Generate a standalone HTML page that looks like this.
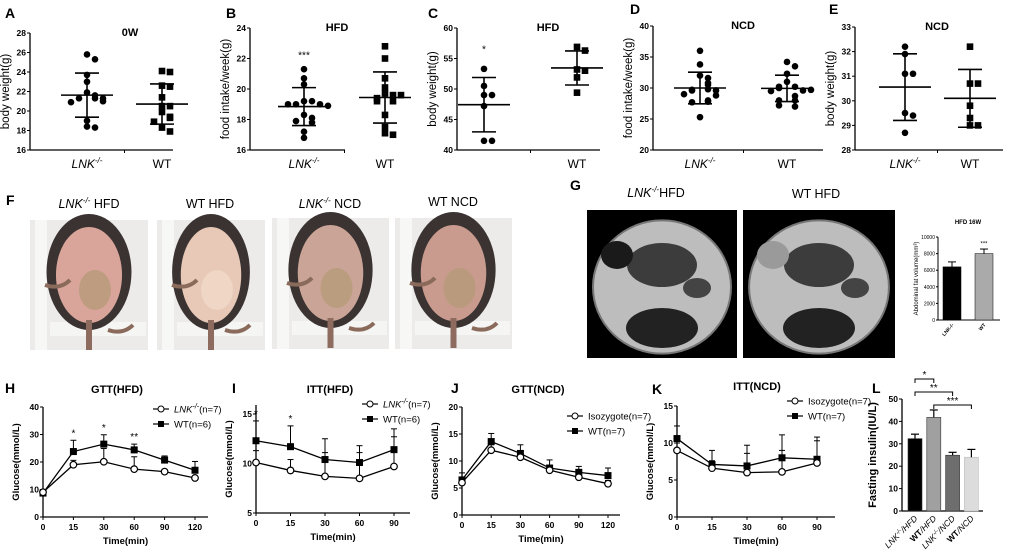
<!DOCTYPE html>
<html><head><meta charset="utf-8"><style>
html,body{margin:0;padding:0;background:#fff;}
svg{display:block;font-family:"Liberation Sans",sans-serif;}
</style></head><body>
<svg id="fig" width="1020" height="556" viewBox="0 0 1020 556" xmlns="http://www.w3.org/2000/svg">
<g id="photos">
  <text x="6" y="205" font-size="14" font-weight="bold">F</text>
  <text x="89" y="208" font-size="12.5" text-anchor="middle"><tspan font-style="italic">LNK</tspan><tspan font-size="8" dy="-5" font-style="italic">-/-</tspan><tspan dy="5"> HFD</tspan></text>
  <text x="210" y="208" font-size="12.5" text-anchor="middle">WT HFD</text>
  <text x="330" y="208" font-size="12.5" text-anchor="middle"><tspan font-style="italic">LNK</tspan><tspan font-size="8" dy="-5" font-style="italic">-/-</tspan><tspan dy="5"> NCD</tspan></text>
  <text x="453" y="206" font-size="12.5" text-anchor="middle">WT NCD</text>
</g>
<g id="mri">
  <text x="570" y="190" font-size="14" font-weight="bold">G</text>
  <text x="656" y="197" font-size="12.5" text-anchor="middle"><tspan font-style="italic">LNK</tspan><tspan font-size="8" dy="-5" font-style="italic">-/-</tspan><tspan dy="5">HFD</tspan></text>
  <text x="816" y="198" font-size="12.5" text-anchor="middle">WT HFD</text>
</g>
</svg>
<script>
var NS="http://www.w3.org/2000/svg";
var svg=document.getElementById('fig');
function mk(tag,attrs,parent){var e=document.createElementNS(NS,tag);for(var k in attrs)e.setAttribute(k,attrs[k]);(parent||svg).appendChild(e);return e;}
function txt(x,y,s,size,extra,parent){var a={x:x,y:y,'font-size':size};for(var k in extra)a[k]=extra[k];var t=mk('text',a,parent);t.textContent=s;return t;}

/* ---------- scatter data ---------- */
var aLnk=[25.8,25.3,23.7,23.0,21.9,21.6,21.3,21.3,21.3,21.0,20.9,19.0,18.4,18.3];
var aWt=[24.1,24.0,22.6,22.5,21.4,20.5,20.5,19.9,19.4,19.3,18.9,18.3,17.9];
var bLnk=[21.3,20.7,20.3,19.2,19.2,19.0,19.0,19.0,18.9,18.3,18.1,17.8,17.9,17.2,16.8];
var bWt=[22.8,22.0,20.7,20.1,19.7,19.6,19.4,19.6,19.2,19.2,18.3,17.5,17.1,17.0];
var cLnk=[53.3,50.5,49.0,49.0,47.2,41.5,41.5];
var cWt=[56.9,56.3,53.2,53.0,51.9,49.4];
var dLnk=[36.0,33.8,32.0,31.6,30.8,30.5,29.8,29.7,29.6,29.6,29.0,28.8,28.0,27.8,27.7,25.3];
var dWt=[34.2,33.5,32.3,31.0,30.2,30.2,30.0,29.6,29.5,29.7,28.7,28.0,28.0,27.2,27.0];
var eLnk=[32.2,31.9,31.1,31.1,29.5,29.4,28.7];
var eWt=[32.2,30.7,30.7,29.8,29.3,29.0,29.0];
var aTicks=[16,18,20,22,24,26,28];
var bTicks=[16,18,20,22,24];
var cTicks=[40,45,50,55,60];
var dTicks=[20,25,30,35,40];
var eTicks=[28,29,30,31,32,33];

function stats(a){var m=0;a.forEach(function(v){m+=v});m/=a.length;var s=0;a.forEach(function(v){s+=(v-m)*(v-m)});s=Math.sqrt(s/(a.length-1));return [m,s];}

function scatter(p){
  var g=mk('g',{});
  
  
  function Y(v){return p.yb-(v-p.min)/(p.max-p.min)*(p.yb-p.yt);}
  var l=txt(p.lx,p.ly,p.letter,14,{'font-weight':'bold'},g);
  
  
  var ax=mk('line',{x1:p.ax,y1:p.yt,x2:p.ax,y2:p.yb,stroke:'#000','stroke-width':1.3},g);
  
  
  var xa=mk('line',{x1:p.ax,y1:p.yb,x2:p.xe,y2:p.yb,stroke:'#000','stroke-width':1.3},g);
  
  
  mk('line',{x1:(p.c1+p.c2)/2,y1:p.yb,x2:(p.c1+p.c2)/2,y2:p.yb+3,stroke:'#000'},g);
  p.ticks.forEach(function(t){
    mk('line',{x1:p.ax-3,y1:Y(t),x2:p.ax,y2:Y(t),stroke:'#000'},g);
    var tl=txt(p.ax-4,Y(t)+3,String(t),8.5,{'text-anchor':'end','font-weight':'bold'},g);
    
    
  });
  var yt=txt(0,0,p.ylab,11.5,{'text-anchor':'middle',transform:'translate('+(p.ax-21)+','+((p.yt+p.yb)/2)+') rotate(-90)'},g);
  
  
  var tt=txt(p.tx,p.yt+3,p.title,11,{'text-anchor':'middle','font-weight':'bold'},g);
  
  
  if(p.showL){
    var x1=mk('text',{x:p.c1,y:p.yb+18,'font-size':12,'text-anchor':'middle','font-style':'italic'},g);
    x1.innerHTML='LNK<tspan font-size="8" dy="-5">-/-</tspan>';
    
    
  }
  var x2=txt(p.c2,p.yb+18,'WT',12,{'text-anchor':'middle'},g);
  
  
  [[p.d1,p.c1,'circle'],[p.d2,p.c2,p.sq?'square':'circle']].forEach(function(gr){
    var data=gr[0],cx=gr[1],placed=[];
    data.forEach(function(v){
      var y=Y(v),n=0;placed.forEach(function(py){if(Math.abs(py-y)<5)n++;});placed.push(y);
      var off=(n%2?1:-1)*Math.ceil(n/2)*8; if(n===0)off=0;
      var m;
      if(gr[2]==='circle'){m=mk('circle',{cx:cx+off,cy:y,r:3.3,fill:'#000'},g);}
      else{m=mk('rect',{x:cx+off-3.3,y:y-3.3,width:6.6,height:6.6,fill:'#000'},g);}
      
      
    });
    var st=stats(data);
    var ml=mk('line',{x1:cx-26,y1:Y(st[0]),x2:cx+26,y2:Y(st[0]),stroke:'#000','stroke-width':1.6},g);
    
    
    mk('line',{x1:cx,y1:Y(st[0]+st[1]),x2:cx,y2:Y(st[0]-st[1]),stroke:'#000','stroke-width':1.6},g);
    mk('line',{x1:cx-12,y1:Y(st[0]+st[1]),x2:cx+12,y2:Y(st[0]+st[1]),stroke:'#000','stroke-width':1.6},g);
    mk('line',{x1:cx-12,y1:Y(st[0]-st[1]),x2:cx+12,y2:Y(st[0]-st[1]),stroke:'#000','stroke-width':1.6},g);
  });
  if(p.star){var s=txt(p.c1,Y(p.starV),p.star,10,{'text-anchor':'middle'},g);
    
    }
}
scatter({name:'panel-a-chart',letter:'A',lx:5,ly:18,ax:30,xe:173,yt:33,yb:150,min:16,max:28,ticks:aTicks,d1:aLnk,d2:aWt,c1:87,c2:162,sq:true,ylab:'body weight(g)',title:'0W',tx:130,showL:true});
scatter({name:'panel-b-chart',letter:'B',lx:226,ly:18,ax:250,xe:345,yt:28,yb:150,min:16,max:24,ticks:bTicks,d1:bLnk,d2:bWt,c1:304,c2:385,sq:true,ylab:'food intake/week(g)',title:'HFD',tx:337,showL:true,star:'***',starV:22});
scatter({name:'panel-c-chart',letter:'C',lx:428,ly:18,ax:457,xe:600,yt:28,yb:150,min:40,max:60,ticks:cTicks,d1:cLnk,d2:cWt,c1:484,c2:577,sq:true,ylab:'body weight(g)',title:'HFD',tx:548,showL:false,star:'*',starV:56});
scatter({name:'panel-d-chart',letter:'D',lx:630,ly:14,ax:653,xe:823,yt:26,yb:150,min:20,max:40,ticks:dTicks,d1:dLnk,d2:dWt,c1:700,c2:787,sq:false,ylab:'food intake/week(g)',title:'NCD',tx:743,showL:true});
scatter({name:'panel-e-chart',letter:'E',lx:829,ly:14,ax:855,xe:1003,yt:27,yb:150,min:28,max:33,ticks:eTicks,d1:eLnk,d2:eWt,c1:905,c2:970,sq:true,ylab:'body weight(g)',title:'NCD',tx:937,showL:true});
</script>
<script>
/* ---------- photos & MRI (illustrative shapes) ---------- */
(function(){
  var boxes=[[30,220,118,130],[157,220,108,130],[272,218,117,131],[395,218,117,131]];
  var bellies=['#d9a59a','#e8c9b8','#caa496','#c99a8e'];
  boxes.forEach(function(b,i){
    var g=mk('g',{});
    
    
    mk('rect',{x:b[0],y:b[1],width:b[2],height:b[3],fill:'#ecebea'},g);
    mk('rect',{x:b[0]+5,y:b[1],width:12,height:b[3],fill:'#f7f7f5'},g);
    mk('rect',{x:b[0]+20,y:b[1]+b[3]-28,width:b[2]-22,height:14,fill:'#f5f5f3'},g);
    mk('ellipse',{cx:b[0]+b[2]/2,cy:b[1]+52,rx:b[2]*0.36,ry:58,fill:'#3a3332'},g);
    mk('ellipse',{cx:b[0]+b[2]/2,cy:b[1]+55,rx:b[2]*0.28,ry:48,fill:bellies[i]},g);
    mk('ellipse',{cx:b[0]+b[2]/2+6,cy:b[1]+70,rx:16,ry:20,fill:i==1?'#f0d9c8':'#b59a78',opacity:0.8},g);
    mk('path',{d:'M'+(b[0]+15)+' '+(b[1]+65)+' q15 5 25 -5 M'+(b[0]+b[2]-40)+' '+(b[1]+110)+' q15 5 25 -5',stroke:'#8a6a5a','stroke-width':4,fill:'none'},g);
    mk('rect',{x:b[0]+b[2]/2-3,y:b[1]+100,width:6,height:30,fill:'#8d6b5e'},g);
  });
  [[587,210,150,148,'#000'],[743,210,152,148,'#000']].forEach(function(b,i){
    var g=mk('g',{});
    
    
    mk('rect',{x:b[0],y:b[1],width:b[2],height:b[3],fill:'#000'},g);
    mk('ellipse',{cx:b[0]+b[2]/2,cy:b[1]+b[3]/2+3,rx:b[2]*0.46,ry:b[3]*0.45,fill:'#bdbdbd',stroke:'#777','stroke-width':2},g);
    mk('ellipse',{cx:b[0]+b[2]/2,cy:b[1]+55,rx:35,ry:22,fill:'#3c3c3c'},g);
    mk('ellipse',{cx:b[0]+30,cy:b[1]+45,rx:16,ry:14,fill:i?'#9a9a9a':'#1a1a1a'},g);
    mk('ellipse',{cx:b[0]+b[2]-40,cy:b[1]+78,rx:14,ry:10,fill:'#444'},g);
    mk('ellipse',{cx:b[0]+b[2]/2,cy:b[1]+118,rx:36,ry:20,fill:'#222'},g);
  });
})();

/* ---------- abdominal fat mini bar ---------- */
var fatGroups=['LNK-/-','WT'];
var fatValues=[6400,8000];
var fatErr=[600,550];
var fatTicks=[0,2000,4000,6000,8000,10000];
(function(){
  var g=mk('g',{});
  
  
  var ax=938,yb=320,yt=237,max=10000;
  function Y(v){return yb-v/max*(yb-yt);}
  mk('line',{x1:ax,y1:yt,x2:ax,y2:yb,stroke:'#000'},g);
  mk('line',{x1:ax,y1:yb,x2:1000,y2:yb,stroke:'#000'},g);
  fatTicks.forEach(function(t){mk('line',{x1:ax-2,y1:Y(t),x2:ax,y2:Y(t),stroke:'#000'},g);
    var l=txt(ax-3,Y(t)+2,String(t),5,{'text-anchor':'end'},g);
    
    });
  var cols=['#000','#aaa'];
  fatValues.forEach(function(v,i){var cx=952+i*32;
    var r=mk('rect',{x:cx-9,y:Y(v),width:18,height:yb-Y(v),fill:cols[i],stroke:'#000','stroke-width':0.5},g);
    
    
    mk('line',{x1:cx,y1:Y(v),x2:cx,y2:Y(v+fatErr[i]),stroke:'#000'},g);
    mk('line',{x1:cx-4,y1:Y(v+fatErr[i]),x2:cx+4,y2:Y(v+fatErr[i]),stroke:'#000'},g);
    var xl=txt(0,0,fatGroups[i],5,{'text-anchor':'end',transform:'translate('+(cx+2)+','+(yb+5)+') rotate(-50)','font-weight':'bold'},g);
    
    
  });
  var st=txt(984,Y(8000)-8,'***',6,{'text-anchor':'middle'},g);
  
  
  var tt=txt(968,224,'HFD 16W',6,{'text-anchor':'middle','font-weight':'bold'},g);
  
  
  var yl=txt(0,0,'Abdominal fat volume(mm\u00b3)',6,{'text-anchor':'middle',transform:'translate(918,'+((yt+yb)/2)+') rotate(-90)'},g);
  
  
})();

/* ---------- line charts ---------- */
var hTimes=['0','15','30','60','90','120'];
var hLnk=[9.0,19.0,20.1,17.4,16.5,14.2];
var hLnkErr=[1.0,1.6,4.8,4.5,0.6,0.5];
var hWt=[8.7,23.8,26.5,24.4,20.7,17.0];
var hWtErr=[1.0,4.1,3.4,2.1,1.5,3.2];
var hStars=['','*','*','**','',''];
var iTimes=['0','15','30','60','90'];
var iLnk=[10.1,9.3,8.7,8.5,9.7];
var iLnkErr=[1.2,1.1,2.4,2.6,3.0];
var iWt=[12.3,11.7,10.4,10.1,11.4];
var iWtErr=[2.0,2.1,2.1,1.7,2.1];
var iStars=['*','*','','',''];
var jTimes=['0','15','30','60','90','120'];
var jIso=[6.0,12.0,10.7,8.3,7.0,5.8];
var jIsoErr=[1.0,1.0,0.9,0.8,0.7,0.6];
var jWt=[6.5,13.6,11.4,8.7,7.9,7.3];
var jWtErr=[1.3,1.5,1.6,1.5,1.1,1.4];
var kTimes=['0','15','30','60','90'];
var kIso=[9.0,6.6,6.0,6.1,7.3];
var kIsoErr=[1.0,1.0,2.6,2.9,3.0];
var kWt=[10.6,7.1,6.9,8.0,7.8];
var kWtErr=[1.7,1.9,2.8,3.1,3.0];

function lineChart(p){
  var g=mk('g',{});
  
  
  function Y(v){return p.yb-(v-p.min)/(p.max-p.min)*(p.yb-p.yt);}
  function X(i){return p.ax+i*p.step;}
  var l=txt(p.lx,p.ly,p.letter,14,{'font-weight':'bold'},g);
  
  
  var ya=mk('line',{x1:p.ax,y1:p.ytop,x2:p.ax,y2:p.yb,stroke:'#000','stroke-width':1.3},g);
  
  
  var xa=mk('line',{x1:p.ax,y1:p.yb,x2:p.xe,y2:p.yb,stroke:'#000','stroke-width':1.3},g);
  
  
  p.ticks.forEach(function(t){mk('line',{x1:p.ax-3,y1:Y(t),x2:p.ax,y2:Y(t),stroke:'#000'},g);
    var tl=txt(p.ax-4,Y(t)+3,String(t),8.5,{'text-anchor':'end','font-weight':'bold'},g);
    
    });
  p.cats.forEach(function(c,i){mk('line',{x1:X(i),y1:p.yb,x2:X(i),y2:p.yb+3,stroke:'#000'},g);
    var tl=txt(X(i),p.yb+13,c,8.5,{'text-anchor':'middle','font-weight':'bold'},g);
    
    });
  var xt=txt(p.ax+(p.xe-p.ax)/2,p.yb+27,'Time(min)',9.5,{'text-anchor':'middle','font-weight':'bold'},g);
  
  
  var yt=txt(0,0,'Glucose(mmol/L)',9.5,{'text-anchor':'middle','font-weight':'bold',transform:'translate('+(p.ax-24)+','+((p.ytop+p.yb)/2)+') rotate(-90)'},g);
  
  
  var tt=txt(p.tx,p.ty,p.title,11,{'text-anchor':'middle','font-weight':'bold'},g);
  
  
  [[p.s2,p.e2,'sq'],[p.s1,p.e1,'ci']].forEach(function(s){
    var d='';s[0].forEach(function(v,i){d+=(i?'L':'M')+X(i)+' '+Y(v);});
    var ln=mk('path',{d:d,fill:'none',stroke:'#000','stroke-width':1.3},g);
    
    
    s[0].forEach(function(v,i){
      var top=Y(v+s[1][i]);
      mk('line',{x1:X(i),y1:Y(v),x2:X(i),y2:top,stroke:'#000'},g);
      mk('line',{x1:X(i)-3,y1:top,x2:X(i)+3,y2:top,stroke:'#000'},g);
      var m;
      if(s[2]==='sq'){m=mk('rect',{x:X(i)-3.5,y:Y(v)-3.5,width:7,height:7,fill:'#000'},g);}
      else{m=mk('circle',{cx:X(i),cy:Y(v),r:3.3,fill:'#fff',stroke:'#000','stroke-width':1.2},g);}
      
      
    });
  });
  if(p.stars){p.stars.forEach(function(s,i){if(!s)return;
    var st=txt(X(i),Y(p.s2[i]+p.e2[i])-4,s,10,{'text-anchor':'middle'},g);
    
    });}
  [[p.leg1,'ci',p.legY],[p.leg2,'sq',p.legY+15]].forEach(function(L){
    var lg=mk('g',{},g);
    
    
    mk('line',{x1:p.legX,y1:L[2],x2:p.legX+16,y2:L[2],stroke:'#000','stroke-width':1.2},lg);
    if(L[1]==='sq')mk('rect',{x:p.legX+5,y:L[2]-3,width:6,height:6,fill:'#000'},lg);
    else mk('circle',{cx:p.legX+8,cy:L[2],r:3,fill:'#fff',stroke:'#000'},lg);
    var t=mk('text',{x:p.legX+21,y:L[2]+3.5,'font-size':9.5},lg);
    t.innerHTML=L[0];
  });
}
lineChart({name:'panel-h-gtt-hfd',letter:'H',lx:5,ly:393,title:'GTT(HFD)',tx:117,ty:393,ax:43,xe:208,step:30.4,ytop:407,yt:407,yb:517,min:0,max:40,ticks:[0,10,20,30,40],cats:hTimes,s1:hLnk,e1:hLnkErr,s2:hWt,e2:hWtErr,stars:hStars,legX:153,legY:409,leg1:'<tspan font-style="italic">LNK</tspan><tspan font-size="7" dy="-4" font-style="italic">-/-</tspan><tspan dy="4">(n=7)</tspan>',leg2:'WT(n=6)'});
lineChart({name:'panel-i-itt-hfd',letter:'I',lx:232,ly:393,title:'ITT(HFD)',tx:330,ty:393,ax:256,xe:410,step:34.5,ytop:405,yt:414,yb:513,min:5,max:15,ticks:[5,10,15],cats:iTimes,s1:iLnk,e1:iLnkErr,s2:iWt,e2:iWtErr,stars:iStars,legX:362,legY:404,leg1:'<tspan font-style="italic">LNK</tspan><tspan font-size="7" dy="-4" font-style="italic">-/-</tspan><tspan dy="4">(n=7)</tspan>',leg2:'WT(n=6)'});
lineChart({name:'panel-j-gtt-ncd',letter:'J',lx:451,ly:393,title:'GTT(NCD)',tx:538,ty:393,ax:462,xe:620,step:29.2,ytop:407,yt:407,yb:515,min:0,max:20,ticks:[0,5,10,15,20],cats:jTimes,s1:jIso,e1:jIsoErr,s2:jWt,e2:jWtErr,legX:567,legY:416,leg1:'Isozygote(n=7)',leg2:'WT(n=7)'});
lineChart({name:'panel-k-itt-ncd',letter:'K',lx:652,ly:394,title:'ITT(NCD)',tx:757,ty:390,ax:677,xe:835,step:35,ytop:406,yt:406,yb:517,min:0,max:15,ticks:[0,5,10,15],cats:kTimes,s1:kIso,e1:kIsoErr,s2:kWt,e2:kWtErr,legX:787,legY:401,leg1:'Isozygote(n=7)',leg2:'WT(n=7)'});

/* ---------- L fasting insulin ---------- */
var lGroups=['LNK-/-/HFD','WT/HFD','LNK-/-/NCD','WT/NCD'];
var lValues=[32.3,41.8,24.9,24.0];
var lErr=[2.0,3.3,1.3,3.5];
var lTicks=[0,10,20,30,40,50];
(function(){
  var g=mk('g',{});
  
  
  var ax=902,yb=511,yt=399,max=50;
  function Y(v){return yb-v/max*(yb-yt);}
  function X(i){return 915+i*18.8;}
  var l=txt(872,393,'L',14,{'font-weight':'bold'},g);
  
  
  mk('line',{x1:ax,y1:yt,x2:ax,y2:yb,stroke:'#000','stroke-width':1.3},g);
  mk('line',{x1:ax,y1:yb,x2:983,y2:yb,stroke:'#000','stroke-width':1.3},g);
  lTicks.forEach(function(t){mk('line',{x1:ax-3,y1:Y(t),x2:ax,y2:Y(t),stroke:'#000'},g);
    var tl=txt(ax-4,Y(t)+3,String(t),8.5,{'text-anchor':'end','font-weight':'bold'},g);
    
    });
  var yl=txt(0,0,'Fasting insulin(IU/L)',11,{'text-anchor':'middle','font-weight':'bold',transform:'translate(876,'+((yt+yb)/2)+') rotate(-90)'},g);
  
  
  var cols=['#000','#a0a0a0','#6e6e6e','#dcdcdc'];
  lValues.forEach(function(v,i){
    var r=mk('rect',{x:X(i)-7,y:Y(v),width:14,height:yb-Y(v),fill:cols[i],stroke:i===3?'#bbb':'#333','stroke-width':0.6},g);
    
    
    mk('line',{x1:X(i),y1:Y(v),x2:X(i),y2:Y(v+lErr[i]),stroke:'#000','stroke-width':1.2},g);
    mk('line',{x1:X(i)-4,y1:Y(v+lErr[i]),x2:X(i)+4,y2:Y(v+lErr[i]),stroke:'#000','stroke-width':1.2},g);
    var parts=lGroups[i].split('/');
    var t=mk('text',{'font-size':8.5,'text-anchor':'end',transform:'translate('+(X(i)+3)+','+(yb+8)+') rotate(-45)'},g);
    if(parts.length===3)t.innerHTML='<tspan font-style="italic">LNK</tspan><tspan font-size="6" dy="-3" font-style="italic">-/-</tspan><tspan dy="3" font-style="italic">/'+parts[2]+'</tspan>';
    else t.innerHTML='<tspan font-weight="bold">WT</tspan><tspan font-style="italic">/'+parts[1]+'</tspan>';
    
    
  });
  [[0,1,379,'*'],[0,2,392,'**'],[1,3,405,'***']].forEach(function(b){
    var bg=mk('g',{},g);
    
    
    mk('path',{d:'M'+X(b[0])+' '+(b[2]+4)+'V'+b[2]+'H'+X(b[1])+'V'+(b[2]+4),fill:'none',stroke:'#000','stroke-width':1},bg);
    txt((X(b[0])+X(b[1]))/2,b[2]-1,b[3],10,{'text-anchor':'middle'},bg);
  });
})();
</script>
</body></html>
